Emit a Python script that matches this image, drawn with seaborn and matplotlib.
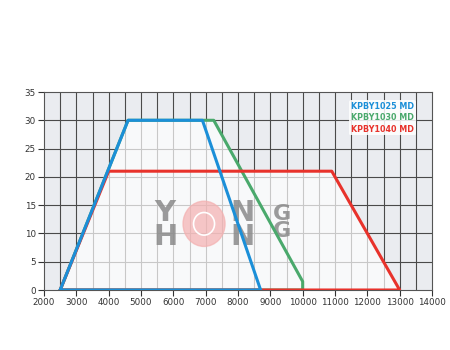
import numpy as np
import pandas as pd
import matplotlib
matplotlib.use("Agg")
import matplotlib.pyplot as plt
import seaborn as sns
from matplotlib.patches import Ellipse

sns.set_theme(style="white")
plt.rcParams['font.family'] = ['DejaVu Sans']

# data
names = ["KPBY1025 MD", "KPBY1030 MD", "KPBY1040 MD"]
colors = ["#1b8fd8", "#4aa96c", "#e8322b"]
x_1025 = [2500, 4600, 6900, 8700, 2500]
y_1025 = [0, 30, 30, 0, 0]
x_1030 = [2500, 4600, 7250, 10000, 10000, 2500]
y_1030 = [0, 30, 30, 1.5, 0, 0]
x_1040 = [2500, 4000, 10900, 13000, 2500]
y_1040 = [0, 21, 21, 0, 0]
xticks = list(range(2000, 14001, 1000))
yticks = list(range(0, 36, 5))

frames = []
for n, xs, ys in [(names[0], x_1025, y_1025), (names[1], x_1030, y_1030), (names[2], x_1040, y_1040)]:
    frames.append(pd.DataFrame({"x": xs, "y": ys, "series": n, "order": range(len(xs))}))
df = pd.concat(frames, ignore_index=True)

fig = plt.figure(figsize=(4.5, 3.5), dpi=100)
ax = fig.add_axes([44/450, 60/350, 388/450, 198/350])
ax.set_facecolor("#eaecf0")

# grid
for gx in range(2500, 14000, 500):
    ax.axvline(gx, color="#4a4a4a", lw=0.8, zorder=1)
for gy in range(5, 35, 5):
    ax.axhline(gy, color="#4a4a4a", lw=0.8, zorder=1)

# light fill under the union of the envelopes
xx = np.linspace(2000, 14000, 3000)
env = np.zeros_like(xx)
for xs, ys in [(x_1025, y_1025), (x_1030, y_1030), (x_1040, y_1040)]:
    xa = np.array(xs[:-1]); ya = np.array(ys[:-1])
    ordr = np.argsort(xa, kind="stable")
    yy = np.interp(xx, xa[ordr], ya[ordr], left=0, right=0)
    env = np.maximum(env, yy)
ax.fill_between(xx, 0, env, color="white", alpha=0.7, lw=0, zorder=2)

# watermark
wm = dict(color="#8a8a8a", alpha=0.85, fontweight="bold", zorder=3, ha="center",
          va="center", linespacing=0.85)
ax.add_patch(Ellipse((6950, 11.7), 1300, 8.0, color="#f4b0b0", alpha=0.7, zorder=3))
ax.add_patch(Ellipse((6950, 11.7), 650, 4.0, fill=False, ec="white", lw=1.2, zorder=3))
ax.text(5750, 11.5, "Y\nH", fontsize=21, **wm)
ax.text(8150, 11.5, "N\nN", fontsize=21, **wm)
ax.text(9360, 11.9, "G\nG", fontsize=16, **wm)

# lines
order_draw = [names[1], names[2], names[0]]
for n in order_draw:
    i = names.index(n)
    sub = df[df.series == n]
    sns.lineplot(data=sub, x="x", y="y", sort=False, estimator=None, color=colors[i],
                 lw=2.2, ax=ax, zorder=5, label=n)

handles = {h.get_label(): h for h in ax.get_lines() if h.get_label() in names}
leg = ax.legend(handles=[handles[n] for n in names], labels=names,
                loc="upper right", bbox_to_anchor=(0.968, 0.978),
                handlelength=0, handletextpad=0, frameon=True, framealpha=0.85,
                edgecolor="none", facecolor="white",
                prop={"weight": "bold", "size": 5.8}, labelspacing=0.3,
                borderpad=0.2)
for txt in leg.get_texts():
    txt.set_color(colors[names.index(txt.get_text())])
for h in leg.legend_handles:
    h.set_visible(False)
leg.set_zorder(6)

ax.set_xlim(2000, 14000)
ax.set_ylim(0, 35)
ax.set_xticks(xticks)
ax.set_yticks(yticks)
ax.set_xlabel("")
ax.set_ylabel("")
ax.tick_params(axis="both", labelsize=6.3, colors="#333333", length=4, width=0.8,
               direction="out", pad=2)
ax.tick_params(axis="x", bottom=True)
ax.tick_params(axis="y", left=True)
for s in ax.spines.values():
    s.set_color("#555555")
    s.set_linewidth(0.8)

fig.savefig("out.png", dpi=100)
